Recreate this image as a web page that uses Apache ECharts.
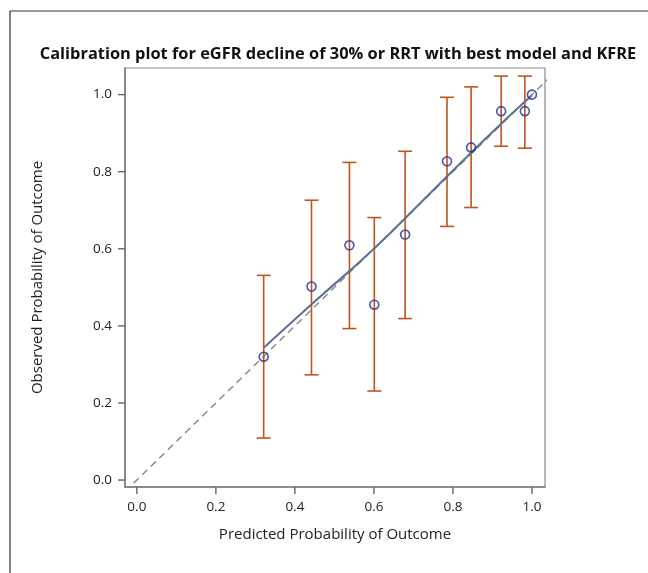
<!DOCTYPE html>
<html>
<head>
<meta charset="utf-8">
<script src="https://cdn.jsdelivr.net/npm/echarts@6/dist/echarts.min.js"></script>
<style>
  html, body { margin: 0; padding: 0; background: #fff; }
  #chart { width: 648px; height: 573px; }
</style>
</head>
<body>
<div id="chart"></div>
<script>
// decile groups
const predicted = [0.321, 0.442, 0.538, 0.601, 0.679, 0.785, 0.846, 0.922, 0.982, 1.0];
const observed  = [0.320, 0.502, 0.609, 0.455, 0.637, 0.827, 0.863, 0.957, 0.957, 1.0];
const lower     = [0.109, 0.273, 0.393, 0.231, 0.419, 0.658, 0.707, 0.866, 0.861, null];
const upper     = [0.531, 0.726, 0.824, 0.681, 0.853, 0.993, 1.020, 1.048, 1.048, null];
// smoothed calibration curve
const fitX = [0.321, 0.45, 0.6, 0.75, 0.9, 1.0];
const fitY = [0.343, 0.463, 0.600, 0.752, 0.903, 0.998];
// reference line y = x
const diagX = [-0.03, 1.04];
const tickValues = [0, 0.2, 0.4, 0.6, 0.8, 1.0];

const xMin = -0.03, xMax = 1.033;
const yMin = -0.018, yMax = 1.069;

const chart = echarts.init(document.getElementById('chart'));

const errData = [];
predicted.forEach((x, i) => {
  if (lower[i] != null) errData.push([x, lower[i], upper[i]]);
});

function makeAxis(extra) {
  return Object.assign({
    type: 'value',
    axisLine: { show: true, onZero: false, lineStyle: { color: '#7a7a7a', width: 1.5 } },
    axisTick: { show: false },
    axisLabel: {
      color: '#222', fontSize: 13.5, fontFamily: 'Open Sans', margin: 13,
      customValues: tickValues,
      formatter: v => v.toFixed(1)
    },
    splitLine: { show: false },
    nameLocation: 'middle',
    nameTextStyle: { color: '#222', fontSize: 15, fontFamily: 'Open Sans' }
  }, extra);
}

const tickStyle = { stroke: '#666', lineWidth: 1.4 };

const option = {
  backgroundColor: '#fff',
  animation: false,
  title: {
    text: 'Calibration plot for eGFR decline of 30% or RRT with best model and KFRE',
    left: 333, top: 41, textAlign: 'center',
    textStyle: { fontSize: 16.4, fontWeight: 'bold', color: '#111', fontFamily: 'Open Sans' }
  },
  graphic: [
    { type: 'line', shape: { x1: 10, y1: 11, x2: 648, y2: 11 }, style: { stroke: '#333', lineWidth: 1.2 } },
    { type: 'line', shape: { x1: 10, y1: 11, x2: 10, y2: 573 }, style: { stroke: '#333', lineWidth: 1.2 } }
  ],
  grid: {
    left: 125, right: 103, top: 68, bottom: 86,
    show: true, borderColor: '#8a8a8a', borderWidth: 1.2, backgroundColor: 'transparent'
  },
  xAxis: makeAxis({
    min: xMin, max: xMax,
    name: 'Predicted Probability of Outcome', nameGap: 40
  }),
  yAxis: makeAxis({
    min: yMin, max: yMax,
    name: 'Observed Probability of Outcome', nameGap: 80
  }),
  series: [
    {
      // axis ticks, placed through the axes' own scales
      type: 'custom',
      data: tickValues.map(v => [v]),
      clip: false,
      silent: true,
      z: 5,
      renderItem: (params, api) => {
        const v = api.value(0);
        const px = api.coord([v, yMin]);
        const py = api.coord([xMin, v]);
        const len = 7;
        return {
          type: 'group',
          children: [
            { type: 'line', shape: { x1: px[0], y1: px[1], x2: px[0], y2: px[1] + len }, style: tickStyle },
            { type: 'line', shape: { x1: py[0], y1: py[1], x2: py[0] - len, y2: py[1] }, style: tickStyle }
          ]
        };
      }
    },
    {
      type: 'line',
      data: diagX.map(v => [v, v]),
      showSymbol: false, symbol: 'none',
      lineStyle: { color: '#858585', width: 1.4, type: [7, 5] },
      clip: true, z: 1
    },
    {
      type: 'custom',
      data: errData,
      z: 2,
      renderItem: (params, api) => {
        const x = api.value(0);
        const lo = api.coord([x, api.value(1)]);
        const hi = api.coord([x, api.value(2)]);
        const hw = 7;
        const st = { stroke: '#c0541f', lineWidth: 1.6 };
        return {
          type: 'group',
          children: [
            { type: 'line', shape: { x1: lo[0], y1: lo[1], x2: hi[0], y2: hi[1] }, style: st },
            { type: 'line', shape: { x1: lo[0] - hw, y1: lo[1], x2: lo[0] + hw, y2: lo[1] }, style: st },
            { type: 'line', shape: { x1: hi[0] - hw, y1: hi[1], x2: hi[0] + hw, y2: hi[1] }, style: st }
          ]
        };
      }
    },
    {
      type: 'line',
      data: fitX.map((x, i) => [x, fitY[i]]),
      showSymbol: false, symbol: 'none', smooth: true,
      lineStyle: { color: '#5a7194', width: 2 },
      z: 3
    },
    {
      type: 'scatter',
      data: predicted.map((x, i) => [x, observed[i]]),
      symbol: 'circle', symbolSize: 9,
      itemStyle: { color: 'rgba(255,255,255,0)', borderColor: '#1f2e8f', borderWidth: 1.6 },
      z: 4
    }
  ]
};

chart.setOption(option);
</script>
</body>
</html>
